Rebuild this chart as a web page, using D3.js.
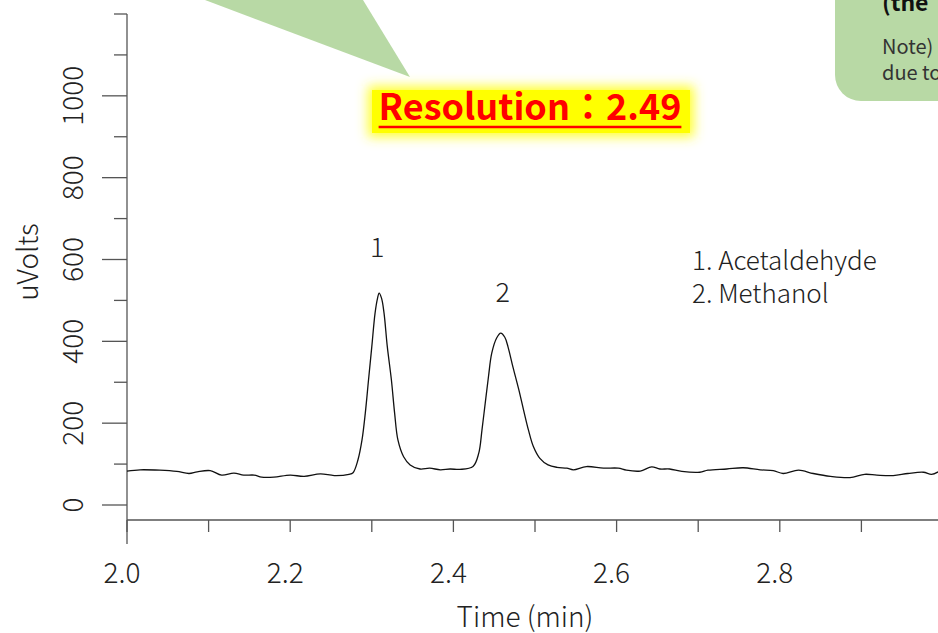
<!DOCTYPE html>
<html>
<head>
<meta charset="utf-8">
<script src="https://cdn.jsdelivr.net/npm/d3@7"></script>
<style>
  body { margin: 0; background: #fff; }
  svg { display: block; font-family: "Noto Sans CJK JP", "Noto Sans", sans-serif; }
</style>
</head>
<body>
<script>
// chromatogram trace (time in min, signal in uVolts)
var times = [2.000, 2.016, 2.040, 2.061, 2.076, 2.086, 2.102, 2.116, 2.131, 2.143,
             2.156, 2.165, 2.180, 2.200, 2.217, 2.237, 2.254, 2.272, 2.277, 2.283,
             2.288, 2.292, 2.296, 2.300, 2.304, 2.307, 2.309, 2.312, 2.315, 2.319,
             2.324, 2.328, 2.332, 2.339, 2.347, 2.359, 2.371, 2.384, 2.396, 2.408,
             2.424, 2.431, 2.435, 2.439, 2.443, 2.447, 2.453, 2.458, 2.463, 2.467,
             2.473, 2.480, 2.486, 2.492, 2.498, 2.506, 2.516, 2.527, 2.539, 2.547,
             2.563, 2.584, 2.602, 2.612, 2.629, 2.643, 2.653, 2.665, 2.680, 2.702,
             2.712, 2.735, 2.755, 2.776, 2.792, 2.804, 2.823, 2.841, 2.862, 2.886,
             2.904, 2.919, 2.939, 2.957, 2.976, 2.986, 2.994];
var uvolts = [83, 86, 85, 82, 77, 81, 84, 73, 78, 73,
              73, 68, 68, 73, 70, 76, 72, 75, 79, 110,
              159, 224, 306, 387, 469, 505, 518, 505, 469, 387,
              306, 224, 159, 118, 98, 88, 90, 86, 88, 87,
              94, 126, 183, 249, 314, 371, 408, 420, 410, 386,
              337, 283, 232, 183, 143, 114, 98, 92, 90, 86,
              94, 90, 90, 85, 83, 93, 88, 88, 82, 80,
              85, 88, 91, 86, 84, 77, 85, 77, 70, 67,
              75, 73, 72, 77, 80, 75, 81];

// peak numbers and where they sit
var peakLabels = ["1", "2"];
var peakTimes = [2.309, 2.463];
var peakLabelValues = [605, 495];

var legendLines = ["1. Acetaldehyde", "2. Methanol"];

var xTicks = [2.0, 2.1, 2.2, 2.3, 2.4, 2.5, 2.6, 2.7, 2.8, 2.9];
var yTicks = [0, 100, 200, 300, 400, 500, 600, 700, 800, 900, 1000, 1100, 1200];
var yLabelled = [0, 200, 400, 600, 800, 1000];

var width = 938, height = 633;

var svg = d3.select("body").append("svg")
    .attr("width", width)
    .attr("height", height);

var x = d3.scaleLinear().domain([2.0, 3.0]).range([127, 943]);
var y = d3.scaleLinear().domain([0, 1200]).range([505, 14]);
var axisY = 520;   // pixel row of the time axis
var axisColor = "#555";
var textColor = "#222";

// green callout tail (from a box above the picture)
svg.append("polygon")
    .attr("points", "205,0 363,0 410,77")
    .attr("fill", "#b8d9a5");

// green note box top right
svg.append("rect")
    .attr("x", 835).attr("y", -40)
    .attr("width", 160).attr("height", 141)
    .attr("rx", 26)
    .attr("fill", "#b8d9a5");
svg.append("text")
    .attr("x", 882).attr("y", 11)
    .attr("font-size", 23).attr("font-weight", "bold")
    .attr("fill", "#111")
    .text("(the");
svg.append("text")
    .attr("x", 882).attr("y", 54)
    .attr("font-size", 20).attr("fill", "#333")
    .text("Note)");
svg.append("text")
    .attr("x", 882).attr("y", 80)
    .attr("font-size", 20).attr("fill", "#333")
    .text("due to");

// y axis
var gy = svg.append("g").attr("class", "axis axis--y");
gy.append("line")
    .attr("x1", 127).attr("x2", 127)
    .attr("y1", y(1200)).attr("y2", 544)
    .attr("stroke", axisColor).attr("stroke-width", 1.3);
gy.selectAll(".tick")
    .data(yTicks)
    .enter().append("line")
      .attr("class", "tick")
      .attr("x1", function(d) { return yLabelled.indexOf(d) >= 0 ? 102 : 114; })
      .attr("x2", 127)
      .attr("y1", function(d) { return y(d); })
      .attr("y2", function(d) { return y(d); })
      .attr("stroke", axisColor).attr("stroke-width", 1.3);
gy.selectAll(".label")
    .data(yLabelled)
    .enter().append("text")
      .attr("class", "label")
      .attr("transform", function(d) { return "translate(83," + y(d) + ") rotate(-90)"; })
      .attr("text-anchor", "middle")
      .attr("font-size", 28).attr("font-weight", 300)
      .attr("fill", textColor)
      .text(function(d) { return d; });
svg.append("text")
    .attr("transform", "translate(38," + 262 + ") rotate(-90)")
    .attr("text-anchor", "middle")
    .attr("font-size", 28).attr("font-weight", 300)
    .attr("fill", textColor)
    .text("uVolts");

// x axis
var gx = svg.append("g").attr("class", "axis axis--x");
gx.append("line")
    .attr("x1", 127).attr("x2", width)
    .attr("y1", axisY).attr("y2", axisY)
    .attr("stroke", axisColor).attr("stroke-width", 1.3);
gx.selectAll(".tick")
    .data(xTicks)
    .enter().append("line")
      .attr("class", "tick")
      .attr("x1", function(d) { return x(d); })
      .attr("x2", function(d) { return x(d); })
      .attr("y1", axisY).attr("y2", axisY + 12)
      .attr("stroke", axisColor).attr("stroke-width", 1.3);
gx.selectAll(".label")
    .data(xTicks.filter(function(d, i) { return i % 2 === 0; }))
    .enter().append("text")
      .attr("class", "label")
      .attr("x", function(d) { return x(d) - 5; })
      .attr("y", 583)
      .attr("text-anchor", "middle")
      .attr("font-size", 28).attr("font-weight", 300)
      .attr("fill", textColor)
      .text(function(d) { return d3.format(".1f")(d); });
svg.append("text")
    .attr("x", 525).attr("y", 627)
    .attr("text-anchor", "middle")
    .attr("font-size", 28).attr("font-weight", 300)
    .attr("fill", textColor)
    .text("Time (min)");

// trace
var line = d3.line()
    .x(function(d, i) { return x(times[i]); })
    .y(function(d) { return y(d); })
    .curve(d3.curveCatmullRom.alpha(0.5));
svg.append("path")
    .attr("d", line(uvolts))
    .attr("fill", "none")
    .attr("stroke", "#111")
    .attr("stroke-width", 1.3);

// peak numbers
svg.selectAll(".peak")
    .data(peakLabels)
    .enter().append("text")
      .attr("class", "peak")
      .attr("x", function(d, i) { return x(peakTimes[i]) - 2; })
      .attr("y", function(d, i) { return y(peakLabelValues[i]); })
      .attr("text-anchor", "middle")
      .attr("font-size", 27).attr("font-weight", 300)
      .attr("fill", textColor)
      .text(function(d) { return d; });

// legend
svg.selectAll(".legend")
    .data(legendLines)
    .enter().append("text")
      .attr("class", "legend")
      .attr("x", 692)
      .attr("y", function(d, i) { return 270 + i * 33; })
      .attr("font-size", 26).attr("font-weight", 300)
      .attr("fill", textColor)
      .text(function(d) { return d; });

// resolution label with yellow glow
var defs = svg.append("defs");
defs.append("filter").attr("id", "glow")
    .attr("x", "-20%").attr("y", "-60%").attr("width", "140%").attr("height", "220%")
  .append("feGaussianBlur").attr("stdDeviation", 6);
svg.append("rect")
    .attr("x", 368).attr("y", 86).attr("width", 326).attr("height", 51)
    .attr("fill", "#ffff33").attr("filter", "url(#glow)");
svg.append("rect")
    .attr("x", 372).attr("y", 90).attr("width", 318).attr("height", 43)
    .attr("fill", "#ffff00");
var res = svg.append("text")
    .attr("x", 530).attr("y", 120)
    .attr("text-anchor", "middle")
    .attr("font-size", 36).attr("font-weight", "bold")
    .attr("fill", "#ff0000")
    .text("Resolution：2.49");
var resLen = res.node().getComputedTextLength();
svg.append("line")
    .attr("x1", 530 - resLen / 2).attr("x2", 530 + resLen / 2)
    .attr("y1", 127).attr("y2", 127)
    .attr("stroke", "#ff0000").attr("stroke-width", 2.5);
</script>
</body>
</html>
